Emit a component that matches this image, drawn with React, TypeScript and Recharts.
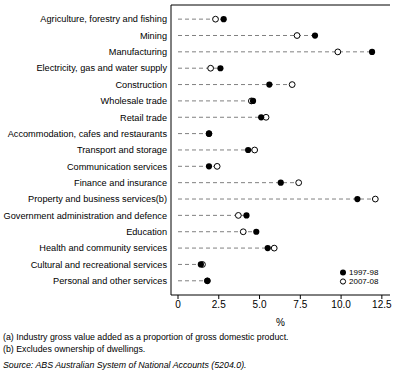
import React from "react";
import {
  ComposedChart,
  Bar,
  Scatter,
  XAxis,
  YAxis,
} from "recharts";

const categories = [
  "Agriculture, forestry and fishing",
  "Mining",
  "Manufacturing",
  "Electricity, gas and water supply",
  "Construction",
  "Wholesale trade",
  "Retail trade",
  "Accommodation, cafes and restaurants",
  "Transport and storage",
  "Communication services",
  "Finance and insurance",
  "Property and business services(b)",
  "Government administration and defence",
  "Education",
  "Health and community services",
  "Cultural and recreational services",
  "Personal and other services",
];

const share1997 = [2.8, 8.4, 11.9, 2.6, 5.6, 4.6, 5.1, 1.9, 4.3, 1.9, 6.3, 11.0, 4.2, 4.8, 5.5, 1.4, 1.8];
const share2007 = [2.3, 7.3, 9.8, 2.0, 7.0, 4.5, 5.4, 1.9, 4.7, 2.4, 7.4, 12.1, 3.7, 4.0, 5.9, 1.5, 1.8];

const xTicks = [0, 2.5, 5, 7.5, 10, 12.5];

const FONT = '"Liberation Sans", Arial, sans-serif';

const chartData = categories.map((name, i) => ({
  name,
  a: share1997[i],
  b: share2007[i],
  reach: Math.max(share1997[i], share2007[i]),
}));

// dashed leader from 0 out to the furthest marker
const DashShape = (props: any) => {
  const { x, y, width, height } = props;
  const cy = y + height / 2;
  return (
    <line
      x1={x}
      x2={x + width}
      y1={cy}
      y2={cy}
      stroke="#808080"
      strokeWidth={1}
      strokeDasharray="4 3"
    />
  );
};

const FilledDot = (props: any) => (
  <circle cx={props.cx} cy={props.cy} r={3.1} fill="#000" />
);

const OpenDot = (props: any) => (
  <circle cx={props.cx} cy={props.cy} r={2.9} fill="#fff" stroke="#000" strokeWidth={1} />
);

// single-line category label, no wrapping
const CategoryTick = (props: any) => {
  const { x, y, payload } = props;
  return (
    <text x={x} y={y} dy="0.35em" textAnchor="end" fill="#000" fontSize={9.2} fontFamily={FONT}>
      {payload.value}
    </text>
  );
};

const fmt = (v: number) => (v === 0 ? "0" : v.toFixed(1));

export default function App() {
  return (
    <div style={{ position: "absolute", left: 0, top: 0, width: 397, height: 378, background: "#fff", fontFamily: FONT }}>
      <ComposedChart
        width={397}
        height={330}
        data={chartData}
        layout="vertical"
        margin={{ top: 0, right: 7, left: 0, bottom: 0 }}
      >
        <XAxis
          xAxisId="top"
          orientation="top"
          type="number"
          domain={[-0.43, 13]}
          ticks={xTicks}
          allowDataOverflow
          height={5}
          tickSize={4}
          tick={false}
          stroke="#000"
        />
        <XAxis
          type="number"
          domain={[-0.43, 13]}
          ticks={xTicks}
          allowDataOverflow
          height={35}
          tickSize={4}
          tickMargin={2}
          tickFormatter={fmt}
          stroke="#000"
          tick={{ fill: "#000", fontSize: 10, fontFamily: FONT }}
          label={{ value: "%", position: "insideBottom", offset: 4, fill: "#000", fontSize: 10, fontFamily: FONT }}
        />
        <YAxis
          type="category"
          dataKey="name"
          width={171}
          padding={{ top: 6, bottom: 6 }}
          tickLine={false}
          tickSize={2}
          tickMargin={2}
          interval={0}
          stroke="#000"
          tick={<CategoryTick />}
        />
        <YAxis
          yAxisId="right"
          orientation="right"
          type="category"
          dataKey="name"
          width={0}
          tick={false}
          tickLine={false}
          stroke="#000"
        />
        <Bar dataKey="reach" shape={<DashShape />} isAnimationActive={false} />
        <Scatter dataKey="b" shape={<OpenDot />} isAnimationActive={false} />
        <Scatter dataKey="a" shape={<FilledDot />} isAnimationActive={false} />
      </ComposedChart>

      <div style={{ position: "absolute", left: 339, top: 268, fontSize: 8, lineHeight: "9px", color: "#000" }}>
        <div style={{ display: "flex", alignItems: "center" }}>
          <svg width={10} height={9}>
            <circle cx={4} cy={4.5} r={3} fill="#000" />
          </svg>
          <span>1997-98</span>
        </div>
        <div style={{ display: "flex", alignItems: "center" }}>
          <svg width={10} height={9}>
            <circle cx={4} cy={4.5} r={2.6} fill="#fff" stroke="#000" />
          </svg>
          <span>2007-08</span>
        </div>
      </div>

      <div style={{ position: "absolute", left: 3, top: 331, fontSize: 8.8, lineHeight: "12px", color: "#000" }}>
        <div>(a) Industry gross value added as a proportion of gross domestic product.</div>
        <div>(b) Excludes ownership of dwellings.</div>
        <div style={{ fontStyle: "italic", marginTop: 4 }}>Source: ABS Australian System of National Accounts (5204.0).</div>
      </div>
    </div>
  );
}
